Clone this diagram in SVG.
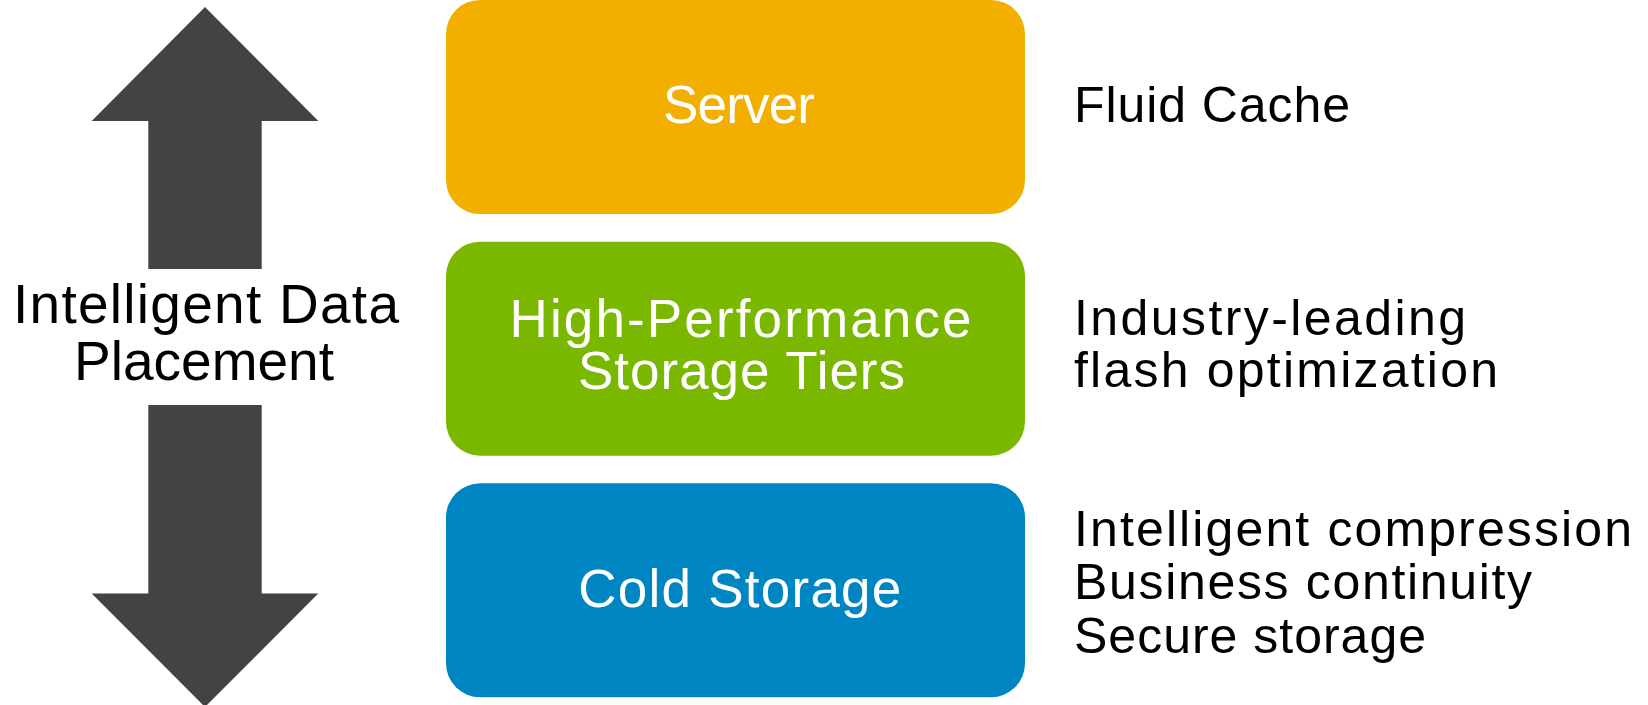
<svg xmlns="http://www.w3.org/2000/svg" width="1648" height="705" viewBox="0 0 1648 705">
  <style>
    .box-label { font-family: "Liberation Sans", Arial, sans-serif; font-size: 53px; fill: #ffffff; }
    .side { font-family: "Liberation Sans", Arial, sans-serif; font-size: 50px; fill: #000000; }
    .left { font-family: "Liberation Sans", Arial, sans-serif; font-size: 55px; fill: #000000; text-anchor: middle; }
    .arrow { fill: #434343; }
  </style>
  <rect width="1648" height="705" fill="#ffffff"/>

  <g id="placement">
    <polygon class="arrow" points="205,7 318.3,121 261.7,121 261.7,269 148.3,269 148.3,121 91.7,121"/>
    <polygon class="arrow" points="148.3,405 261.7,405 261.7,593.5 318.3,593.5 205,707 91.7,593.5 148.3,593.5"/>
    <text class="left" x="206" y="322.5" textLength="386" lengthAdjust="spacing">Intelligent Data</text>
    <text class="left" x="204" y="379.5" textLength="260" lengthAdjust="spacing">Placement</text>
  </g>

  <g id="server">
    <rect x="446" y="0" width="579" height="214" rx="34" ry="34" fill="#F2AF00"/>
    <text class="box-label" x="663" y="122.5" font-size="51" textLength="152" lengthAdjust="spacing">Server</text>
  </g>

  <g id="high-performance">
    <rect x="446" y="241.7" width="579" height="214" rx="34" ry="34" fill="#7AB800"/>
    <text class="box-label" x="509.5" y="336.7" textLength="462" lengthAdjust="spacing">High-Performance</text>
    <text class="box-label" x="578" y="389.3" textLength="327" lengthAdjust="spacing">Storage Tiers</text>
  </g>

  <g id="cold-storage">
    <rect x="446" y="483.3" width="579" height="214" rx="34" ry="34" fill="#0085C3"/>
    <text class="box-label" x="578.3" y="606.7" textLength="323" lengthAdjust="spacing">Cold Storage</text>
  </g>

  <g id="server-notes">
    <text class="side" x="1074" y="121.5" textLength="276" lengthAdjust="spacing">Fluid Cache</text>
  </g>
  <g id="high-performance-notes">
    <text class="side" x="1074" y="334.5" textLength="392" lengthAdjust="spacing">Industry-leading</text>
    <text class="side" x="1074" y="387" textLength="424" lengthAdjust="spacing">flash optimization</text>
  </g>
  <g id="cold-storage-notes">
    <text class="side" x="1074" y="545.5" textLength="558" lengthAdjust="spacing">Intelligent compression</text>
    <text class="side" x="1074" y="599" textLength="458" lengthAdjust="spacing">Business continuity</text>
    <text class="side" x="1074" y="652.5" textLength="352" lengthAdjust="spacing">Secure storage</text>
  </g>

  <g id="connectors"></g>
</svg>
